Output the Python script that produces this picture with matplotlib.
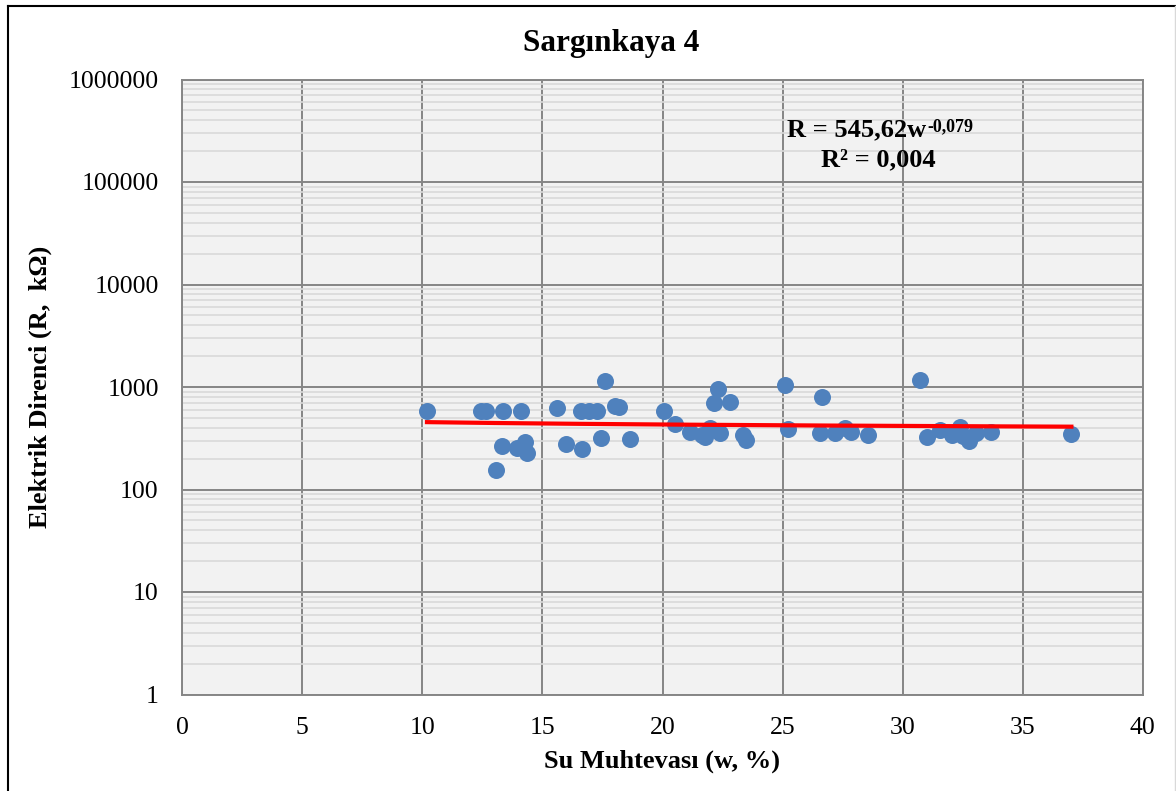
import numpy as np
import matplotlib
matplotlib.use("Agg")
import matplotlib.pyplot as plt
from matplotlib.ticker import FixedLocator, NullFormatter, LogLocator

# ---- data ----
w_values = [10.19, 12.43, 12.64, 13.37, 14.12, 13.07, 13.33, 13.95, 14.27, 14.36,
            15.60, 16.59, 16.93, 17.26, 17.62, 18.04, 18.18, 16.00, 16.63, 17.43,
            18.63, 20.07, 20.50, 21.15, 21.64, 21.78, 21.98, 22.40, 22.13, 22.30,
            22.81, 23.34, 23.46, 25.10, 25.24, 26.66, 26.55, 27.18, 27.59, 27.87,
            28.56, 30.71, 31.01, 31.56, 32.05, 32.39, 32.50, 32.75, 33.06, 33.68,
            37.03]
R_values = [587, 587, 587, 587, 587, 154, 267, 256, 293, 226,
            620, 587, 587, 587, 1152, 657, 634, 276, 250, 318,
            313, 583, 433, 366, 340, 323, 396, 358, 703, 950,
            709, 340, 304, 1046, 387, 794, 353, 353, 396, 361,
            340, 1170, 327, 381, 340, 410, 335, 297, 353, 366,
            348]
fit_a = 545.62
fit_b = -0.079
x_ticks = [0, 5, 10, 15, 20, 25, 30, 35, 40]
y_ticks = [1, 10, 100, 1000, 10000, 100000, 1000000]
y_tick_labels = ["1", "10", "100", "1000", "10000", "100000", "1000000"]

title = "Sargınkaya 4"
xlabel = "Su Muhtevası (w, %)"
ylabel = "Elektrik Direnci (R,  kΩ)"
eq_main = "R = 545,62w"
eq_sup = "-0,079"
eq_line2 = "R² = 0,004"

plt.rcParams['font.family'] = ['Liberation Serif', 'DejaVu Serif']

fig = plt.figure(figsize=(11.76, 7.91), dpi=100)
fig.patch.set_facecolor('white')
ax = fig.add_axes([182.3 / 1176, 1 - 694.5 / 791, (1142.7 - 182.3) / 1176, (694.5 - 79.5) / 791])
ax.set_facecolor('#F2F2F2')

ax.set_yscale('log')
ax.set_xlim(0, 40)
ax.set_ylim(1, 1000000)

ax.yaxis.set_major_locator(FixedLocator(y_ticks))
ax.set_yticklabels(y_tick_labels)
ax.yaxis.set_minor_locator(LogLocator(base=10, subs=np.arange(2, 10)))
ax.yaxis.set_minor_formatter(NullFormatter())
ax.set_xticks(x_ticks)
ax.set_xticklabels([str(t) for t in x_ticks])

ax.grid(which='minor', axis='y', color='#D9D9D9', linewidth=1.2)
ax.grid(which='major', axis='both', color='#868686', linewidth=1.4)
ax.set_axisbelow(True)
ax.tick_params(axis='both', which='both', length=0, labelsize=18.5)
ax.tick_params(axis='y', pad=17)
ax.tick_params(axis='x', pad=16)
for s in ax.spines.values():
    s.set_color('#868686')
    s.set_linewidth(1.4)

ax.scatter(w_values, R_values, s=150, color='#4F81BD', zorder=3, linewidths=0)

w_fit = np.linspace(min(w_values), max(w_values), 200)
ax.plot(w_fit, fit_a * w_fit ** fit_b, color='#FF0000', linewidth=3, zorder=4)

fig.text(611 / 1176, 1 - 51 / 791, title, fontsize=22.5, fontweight='bold',
         ha='center', va='baseline')
ax.set_xlabel(xlabel, fontsize=19, fontweight='bold', labelpad=8)
ax.set_ylabel(ylabel, fontsize=19, fontweight='bold', labelpad=12)

t1 = fig.text(786.7 / 1176, 1 - 136.7 / 791, eq_main, fontsize=19, fontweight='bold',
              ha='left', va='baseline', zorder=5)
ax.annotate(eq_sup, xy=(1, 1), xycoords=t1, xytext=(1, 0), textcoords='offset points',
            fontsize=13, fontweight='bold', ha='left', va='top', zorder=5)
fig.text(878 / 1176, 1 - 166.7 / 791, eq_line2, fontsize=19, fontweight='bold',
         ha='center', va='baseline', zorder=5)

# outer border (chart area)
fig.add_artist(plt.Line2D([7.5 / 1176, 7.5 / 1176], [0, 1 - 5.5 / 791], transform=fig.transFigure, color='black', linewidth=1.5))
fig.add_artist(plt.Line2D([7.5 / 1176, 1], [1 - 5.5 / 791, 1 - 5.5 / 791], transform=fig.transFigure, color='black', linewidth=1.5))
fig.add_artist(plt.Line2D([1174.5 / 1176, 1174.5 / 1176], [0, 1 - 5.5 / 791], transform=fig.transFigure, color='#D9D9D9', linewidth=1.0))

fig.savefig('out.png', dpi=100)
